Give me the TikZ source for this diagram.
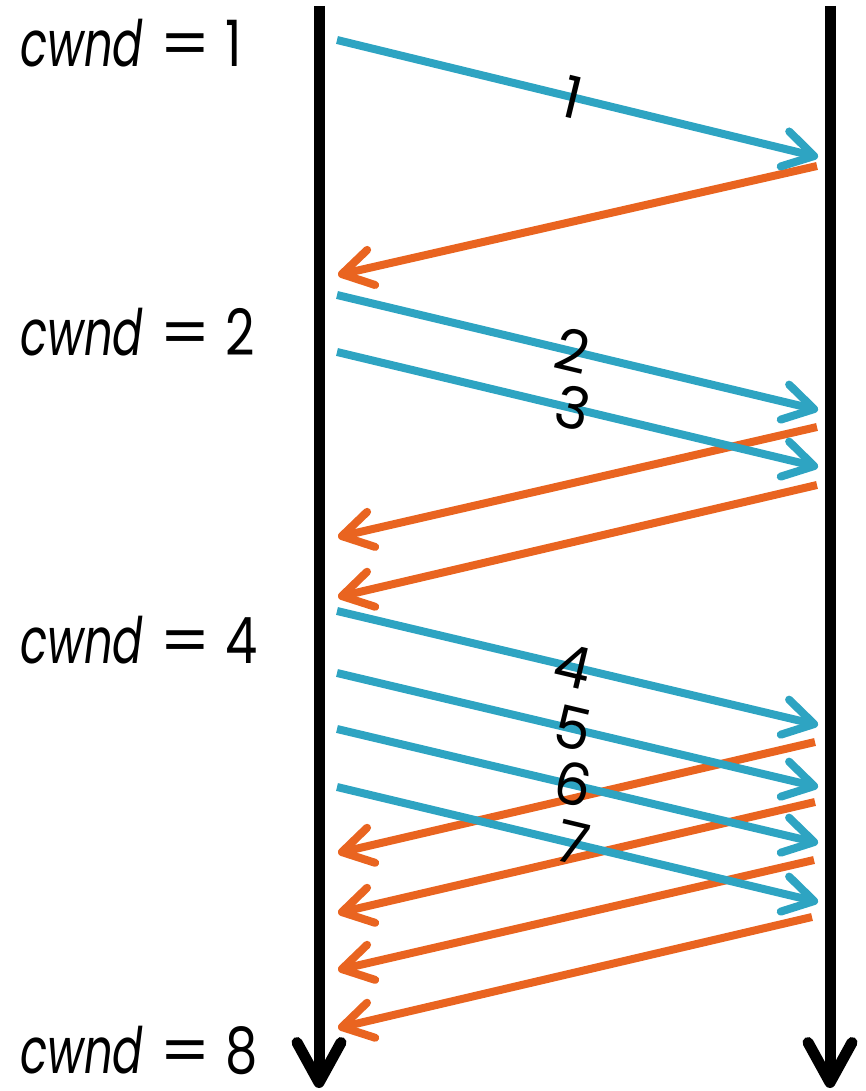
\documentclass[tikz,border=0pt]{standalone}
\usepackage{fontspec}
\setmainfont{Poppins}
\usetikzlibrary{arrows.meta}
\definecolor{pktblue}{RGB}{46,164,194}
\definecolor{ackorange}{RGB}{233,100,32}
\newcommand{\cwndtext}[1]{\scalebox{0.70}[1]{\textit{cwnd}}\hspace{16pt}\scalebox{1.12}[1]{=}\hspace{14pt}\scalebox{0.8}[1]{#1}}
\begin{document}
\begin{tikzpicture}[x=1pt,y=-1pt,
  timeline/.style={line width=11pt, -{Straight Barb[length=40pt,width=44pt,round]}},
  packet/.style={pktblue, line width=8pt, -{Straight Barb[length=30pt,width=36pt,round]}},
  ack/.style={ackorange, line width=8pt, -{Straight Barb[length=30pt,width=36pt,round]}},
  seqlbl/.style={font=\fontsize{58}{58}\selectfont, text=black, sloped, pos=0.49, inner sep=0pt, text height=41pt, text depth=0pt},
  cwndlbl/.style={font=\fontsize{64}{64}\selectfont, anchor=base west, inner sep=0pt, text height=48pt, text depth=0pt}
]
\useasboundingbox (0,0) rectangle (865,1091);

% timelines
\coordinate (Ltop) at (319,6);
\coordinate (Lbot) at (319,1088);
\coordinate (Rtop) at (830,6);
\coordinate (Rbot) at (830,1088);
\draw[timeline] (Ltop) -- (Lbot);
\draw[timeline] (Rtop) -- (Rbot);

% cwnd labels
\node[cwndlbl] (c1) at (20,67) {\cwndtext{1}};
\node[cwndlbl] (c2) at (20,355) {\cwndtext{2}};
\node[cwndlbl] (c4) at (20,663) {\cwndtext{4}};
\node[cwndlbl] (c8) at (20,1073) {\cwndtext{8}};

% endpoints: packets (left -> right)
\coordinate (p1s) at (337,40);  \coordinate (p1e) at (818,157);
\coordinate (p2s) at (337,295); \coordinate (p2e) at (818,410);
\coordinate (p3s) at (337,352); \coordinate (p3e) at (818,467);
\coordinate (p4s) at (337,611); \coordinate (p4e) at (818,725);
\coordinate (p5s) at (337,673); \coordinate (p5e) at (818,787);
\coordinate (p6s) at (337,729); \coordinate (p6e) at (818,843);
\coordinate (p7s) at (337,787); \coordinate (p7e) at (818,902);
% endpoints: acks (right -> left)
\coordinate (a1s) at (817,166); \coordinate (a1e) at (338,275);
\coordinate (a2s) at (817,427); \coordinate (a2e) at (338,537);
\coordinate (a3s) at (817,485); \coordinate (a3e) at (338,597);
\coordinate (a4s) at (815,742); \coordinate (a4e) at (338,853);
\coordinate (a5s) at (815,802); \coordinate (a5e) at (338,913);
\coordinate (a6s) at (814,860); \coordinate (a6e) at (338,970);
\coordinate (a7s) at (812,917); \coordinate (a7e) at (338,1028);

% acks
\draw[ack] (a1s) -- (a1e);
\draw[ack] (a2s) -- (a2e);
\draw[ack] (a3s) -- (a3e);
\draw[ack] (a4s) -- (a4e);
\draw[ack] (a5s) -- (a5e);
\draw[ack] (a6s) -- (a6e);
\draw[ack] (a7s) -- (a7e);

% packets
\draw[packet] (p1s) -- node[seqlbl] (n1) {1} (p1e);
\draw[packet] (p2s) -- node[seqlbl] (n2) {2} (p2e);
\draw[packet] (p3s) -- node[seqlbl] (n3) {3} (p3e);
\draw[packet] (p4s) -- node[seqlbl] (n4) {4} (p4e);
\draw[packet] (p5s) -- node[seqlbl] (n5) {5} (p5e);
\draw[packet] (p6s) -- node[seqlbl] (n6) {6} (p6e);
\draw[packet] (p7s) -- node[seqlbl] (n7) {7} (p7e);
\end{tikzpicture}
\end{document}
